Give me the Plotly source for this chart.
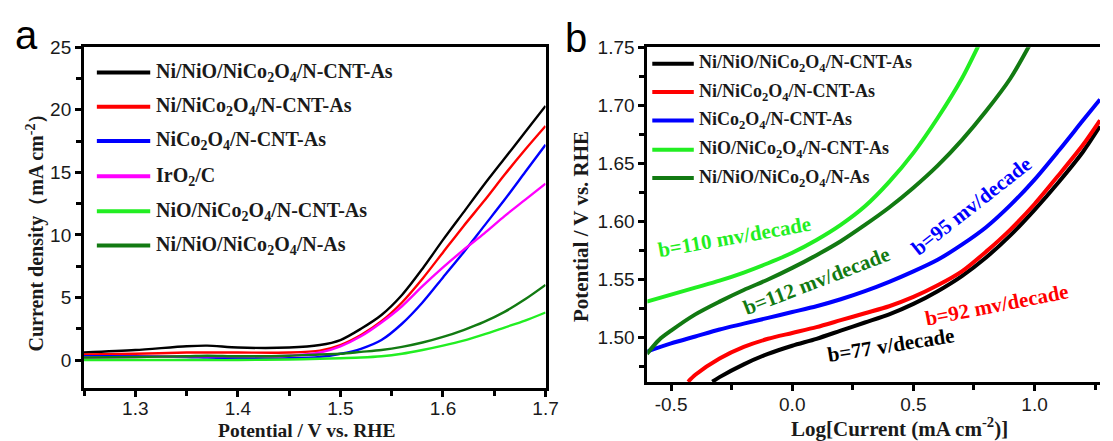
import plotly.graph_objects as go

W, H = 1113, 441

# ---------------- Panel a data (LSV) ----------------
va = [1.25, 1.30, 1.35, 1.37, 1.40, 1.45, 1.48, 1.50, 1.52, 1.54, 1.56, 1.58, 1.60, 1.62, 1.64, 1.66, 1.68, 1.70]
a_black = [0.6, 0.8, 1.1, 1.15, 1.0, 1.0, 1.2, 1.6, 2.5, 3.6, 5.2, 7.3, 9.6, 11.8, 14.0, 16.1, 18.2, 20.3]
a_red = [0.45, 0.5, 0.6, 0.6, 0.6, 0.6, 0.75, 1.2, 2.0, 3.1, 4.6, 6.5, 8.6, 10.7, 12.7, 14.8, 16.8, 18.7]
a_blue = [0.3, 0.3, 0.25, 0.2, 0.15, 0.15, 0.25, 0.5, 0.9, 1.6, 2.9, 4.6, 6.6, 8.6, 10.7, 12.8, 15.0, 17.2]
a_magenta = [0.2, 0.25, 0.3, 0.3, 0.3, 0.35, 0.6, 1.1, 1.9, 3.0, 4.3, 5.9, 7.4, 8.8, 10.1, 11.5, 12.8, 14.1]
a_lgreen = [0.0, 0.0, 0.0, 0.0, 0.0, 0.05, 0.1, 0.15, 0.2, 0.3, 0.5, 0.8, 1.15, 1.55, 2.05, 2.6, 3.15, 3.8]
a_dgreen = [0.2, 0.25, 0.3, 0.35, 0.3, 0.35, 0.45, 0.5, 0.65, 0.8, 1.05, 1.4, 1.85, 2.4, 3.05, 3.85, 4.85, 6.0]

a_names = ["Ni/NiO/NiCo<sub>2</sub>O<sub>4</sub>/N-CNT-As",
           "Ni/NiCo<sub>2</sub>O<sub>4</sub>/N-CNT-As",
           "NiCo<sub>2</sub>O<sub>4</sub>/N-CNT-As",
           "IrO<sub>2</sub>/C",
           "NiO/NiCo<sub>2</sub>O<sub>4</sub>/N-CNT-As",
           "Ni/NiO/NiCo<sub>2</sub>O<sub>4</sub>/N-As"]
a_series = [a_black, a_red, a_blue, a_magenta, a_lgreen, a_dgreen]
a_colors = ["#000000", "#ff0000", "#0000ff", "#ff00ff", "#22ee22", "#127a12"]

# ---------------- Panel b data (Tafel) ----------------
lg_black = [-0.33, -0.3, -0.2, -0.1, 0.0, 0.1, 0.2, 0.3, 0.4, 0.5, 0.6, 0.7, 0.8, 0.9, 1.0, 1.1, 1.2, 1.27]
e_black = [1.462, 1.466, 1.477, 1.486, 1.493, 1.499, 1.506, 1.513, 1.520, 1.529, 1.540, 1.553, 1.569, 1.588, 1.610, 1.634, 1.660, 1.682]
lg_red = [-0.43, -0.4, -0.3, -0.2, -0.1, 0.0, 0.1, 0.2, 0.3, 0.4, 0.5, 0.6, 0.7, 0.8, 0.9, 1.0, 1.1, 1.2, 1.27]
e_red = [1.462, 1.468, 1.482, 1.492, 1.499, 1.504, 1.509, 1.515, 1.521, 1.527, 1.535, 1.545, 1.557, 1.574, 1.593, 1.615, 1.640, 1.666, 1.687]
lg_blue = [-0.6, -0.5, -0.4, -0.3, -0.2, -0.1, 0.0, 0.1, 0.2, 0.3, 0.4, 0.5, 0.6, 0.7, 0.8, 0.9, 1.0, 1.1, 1.2, 1.27]
e_blue = [1.488, 1.495, 1.501, 1.507, 1.512, 1.517, 1.522, 1.527, 1.533, 1.540, 1.548, 1.557, 1.567, 1.580, 1.595, 1.614, 1.636, 1.661, 1.687, 1.705]
lg_lgreen = [-0.6, -0.5, -0.4, -0.3, -0.2, -0.1, 0.0, 0.1, 0.2, 0.3, 0.4, 0.5, 0.6, 0.7, 0.77]
e_lgreen = [1.531, 1.537, 1.543, 1.549, 1.556, 1.564, 1.573, 1.584, 1.597, 1.613, 1.634, 1.659, 1.689, 1.723, 1.752]
lg_dgreen = [-0.6, -0.55, -0.5, -0.4, -0.3, -0.2, -0.1, 0.0, 0.1, 0.2, 0.3, 0.4, 0.5, 0.6, 0.7, 0.8, 0.9, 0.98]
e_dgreen = [1.486, 1.498, 1.506, 1.520, 1.531, 1.541, 1.550, 1.560, 1.571, 1.583, 1.597, 1.612, 1.629, 1.648, 1.670, 1.695, 1.723, 1.752]

b_names = ["Ni/NiO/NiCo<sub>2</sub>O<sub>4</sub>/N-CNT-As",
           "Ni/NiCo<sub>2</sub>O<sub>4</sub>/N-CNT-As",
           "NiCo<sub>2</sub>O<sub>4</sub>/N-CNT-As",
           "NiO/NiCo<sub>2</sub>O<sub>4</sub>/N-CNT-As",
           "Ni/NiO/NiCo<sub>2</sub>O<sub>4</sub>/N-As"]
b_x = [lg_black, lg_red, lg_blue, lg_lgreen, lg_dgreen]
b_y = [e_black, e_red, e_blue, e_lgreen, e_dgreen]
b_colors = ["#000000", "#ff0000", "#0000ff", "#22ee22", "#127a12"]

b_xticks = [-0.5, 0.0, 0.5, 1.0]
b_xticktext = ["-0.5", "0.0", "0.5", "1.0"]
b_yticks = [1.50, 1.55, 1.60, 1.65, 1.70, 1.75]
b_yticktext = ["1.50", "1.55", "1.60", "1.65", "1.70", "1.75"]

slope_text = ["b=110 mv/decade", "b=112 mv/decade", "b=95 mv/decade", "b=92 mv/decade", "b=77 v/decade"]
slope_colors = ["#22ee22", "#127a12", "#0000ff", "#ff0000", "#000000"]

fig = go.Figure()
for name, ys, c in zip(a_names, a_series, a_colors):
    fig.add_trace(go.Scatter(x=va, y=ys, mode="lines", name=name,
                             line=dict(color=c, width=2.4, shape="spline", smoothing=0.8),
                             xaxis="x", yaxis="y", showlegend=False))
for name, xs, ys, c in zip(b_names, b_x, b_y, b_colors):
    fig.add_trace(go.Scatter(x=xs, y=ys, mode="lines", name=name,
                             line=dict(color=c, width=4, shape="spline", smoothing=0.8),
                             xaxis="x2", yaxis="y2", showlegend=False))


def px(x):
    return x / W


def py(y):
    return 1 - y / H


tickfont = dict(family="Liberation Sans, Arial", size=19, color="#1a1a1a")
axis_common = dict(showline=True, linewidth=3, linecolor="black", ticks="outside", ticklen=6, tickwidth=3,
                   tickcolor="black", showgrid=False, zeroline=False, tickfont=tickfont)
minor_common = dict(ticks="outside", ticklen=5, tickwidth=3, tickcolor="black")

fig.update_layout(
    width=W, height=H, margin=dict(l=0, r=0, t=0, b=0),
    paper_bgcolor="white", plot_bgcolor="white",
    xaxis=dict(domain=[px(85), px(552)], range=[1.25, 1.7], tickvals=[1.3, 1.4, 1.5, 1.6, 1.7], mirror=True,
               ticklabelstandoff=-5,
               minor=dict(dtick=0.05, tick0=1.25, **minor_common), anchor="y", **axis_common),
    yaxis=dict(domain=[py(387), py(38)], range=[-2.25, 25], tickvals=[0, 5, 10, 15, 20, 25], mirror=True,
               minor=dict(dtick=2.5, tick0=0, **minor_common), anchor="x", **axis_common),
    xaxis2=dict(domain=[px(655), 1.0], range=[-0.598, 1.27], tickvals=b_xticks, ticktext=b_xticktext, mirror=True,
                ticklabelstandoff=-3,
                minor=dict(dtick=0.25, tick0=0, **minor_common), anchor="y2", **axis_common),
    yaxis2=dict(domain=[py(381), py(38)], range=[1.4615, 1.75], tickvals=b_yticks, ticktext=b_yticktext, mirror=False,
                minor=dict(dtick=0.025, tick0=1.5, **minor_common), anchor="x2", **axis_common),
)

serif = "Liberation Serif, Times New Roman"
ann = []
shapes = []


def add_text(x, y, text, size, color="#1a1a1a", family=serif, angle=0, xanchor="center"):
    ann.append(dict(x=px(x), y=py(y), text=text, showarrow=False, textangle=angle, xanchor=xanchor, yanchor="middle",
                    font=dict(family=family, size=size, color=color), xref="paper", yref="paper"))


# panel letters
add_text(27, 26, "a", 40, color="black", family="Liberation Sans, Arial")
add_text(583, 29, "b", 40, color="black", family="Liberation Sans, Arial")

# axis titles
add_text(311, 430, "<b>Potential / V vs. RHE</b>", 19.5)
add_text(36, 223, "<b>Current density（mA cm<sup>-2</sup>）</b>", 20, angle=-90)
add_text(910, 427, "<b>Log[Current (mA cm<sup>-2</sup>)]</b>", 21)
add_text(588, 222, "<b>Potential / V vs. RHE</b>", 21, angle=-90)

# legend a
leg_a_y = [64, 99, 134, 170, 206, 241]
for name, c, yy in zip(a_names, a_colors, leg_a_y):
    shapes.append(dict(type="line", xref="paper", yref="paper", x0=px(98), x1=px(152), y0=py(yy), y1=py(yy),
                       line=dict(color=c, width=4)))
    add_text(156, yy, "<b>" + name + "</b>", 20, xanchor="left")

# legend b
leg_b_y = [55, 84, 113, 143, 172]
for name, c, yy in zip(b_names, b_colors, leg_b_y):
    shapes.append(dict(type="line", xref="paper", yref="paper", x0=px(660), x1=px(702), y0=py(yy), y1=py(yy),
                       line=dict(color=c, width=4)))
    add_text(705, yy, "<b>" + name + "</b>", 18, xanchor="left")

# slope labels
slope_pos = [(743, 232, -10), (826, 277, -21), (983, 201, -38), (1009, 302, -11), (902, 343, -9)]
for t, c, (xx, yy, ang) in zip(slope_text, slope_colors, slope_pos):
    add_text(xx, yy, "<b>" + t + "</b>", 21, color=c, angle=ang)

fig.update_layout(annotations=ann, shapes=shapes)
fig.write_html("out.html")
